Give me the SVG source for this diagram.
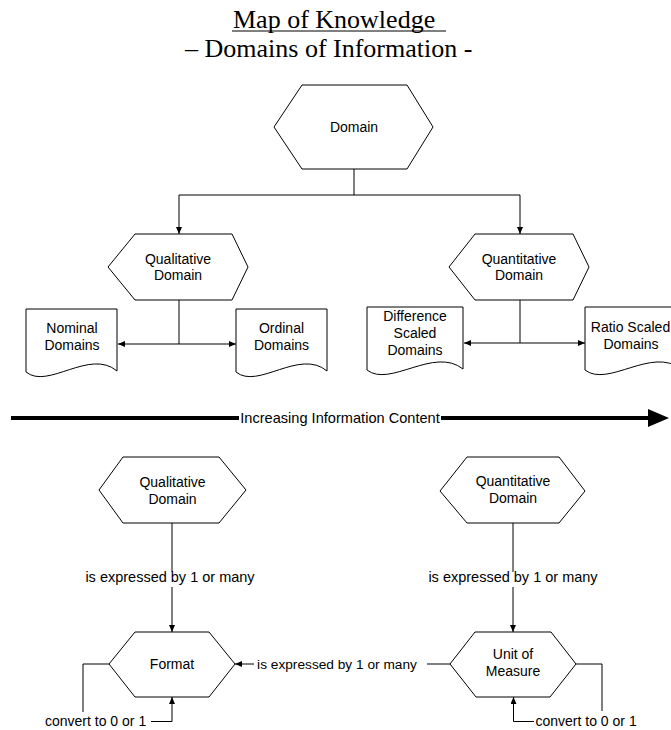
<svg xmlns="http://www.w3.org/2000/svg" width="671" height="730" viewBox="0 0 671 730">
  <style>
    .shape { fill: #fff; stroke: #000; stroke-width: 1; }
    .conn { fill: none; stroke: #000; stroke-width: 1; }
    .txt { font-family: "Liberation Sans", Arial, sans-serif; font-size: 14px; fill: #000; text-anchor: middle; }
    .lbl { font-family: "Liberation Sans", Arial, sans-serif; font-size: 14px; fill: #000; }
    .title { font-family: "Liberation Serif", "Times New Roman", serif; font-size: 26px; fill: #000; }
  </style>
  <defs>
    <marker id="arrow" markerUnits="userSpaceOnUse" markerWidth="8" markerHeight="7" refX="7" refY="3" orient="auto">
      <path d="M0,0 L7,3 L0,6 Z" fill="#000"/>
    </marker>
  </defs>

  <rect width="671" height="730" fill="#fff"/>

  <!-- heading -->
  <g id="title">
    <text class="title" x="233" y="28">Map of Knowledge</text>
    <line x1="232" y1="31" x2="446" y2="31" stroke="#000" stroke-width="1"/>
    <text class="title" x="185" y="57">– Domains of Information -</text>
  </g>

  <!-- upper hierarchy -->
  <g id="domain">
    <polygon class="shape" points="274,127 302,85 407,85 433,127 407,169 302,169"/>
    <text class="txt" x="354" y="131.5">Domain</text>
  </g>
  <g id="qualitative-domain">
    <polygon class="shape" points="108,267 135,234 232,234 248,267 232,300 135,300"/>
    <text class="txt" x="178" y="263.5">Qualitative</text>
    <text class="txt" x="178" y="280">Domain</text>
  </g>
  <g id="quantitative-domain">
    <polygon class="shape" points="449,267 475,234 573,234 589,267 573,300 475,300"/>
    <text class="txt" x="519" y="263.5">Quantitative</text>
    <text class="txt" x="519" y="280">Domain</text>
  </g>
  <g id="nominal-domains">
    <path class="shape" d="M26,309 H117 V371 C89.7,348 47.8,390 26,372 Z"/>
    <text class="txt" x="72" y="332.5">Nominal</text>
    <text class="txt" x="72" y="350">Domains</text>
  </g>
  <g id="ordinal-domains">
    <path class="shape" d="M236,309 H327 V371 C299.7,348 257.8,390 236,372 Z"/>
    <text class="txt" x="281.5" y="332.5">Ordinal</text>
    <text class="txt" x="281.5" y="350">Domains</text>
  </g>
  <g id="difference-scaled-domains">
    <path class="shape" d="M367,307 H463 V369 C434,346 390,388 367,370 Z"/>
    <text class="txt" x="415" y="321">Difference</text>
    <text class="txt" x="415" y="338">Scaled</text>
    <text class="txt" x="415" y="355">Domains</text>
  </g>
  <g id="ratio-scaled-domains">
    <path class="shape" d="M585,307 H681 V369 C652,346 608,388 585,370 Z"/>
    <text class="txt" x="630.5" y="332">Ratio Scaled</text>
    <text class="txt" x="631" y="349">Domains</text>
  </g>

  <!-- information content scale -->
  <g id="information-scale">
    <line x1="11" y1="418" x2="239" y2="418" stroke="#000" stroke-width="4"/>
    <text class="txt" x="340" y="422.5" style="font-size:14.6px">Increasing Information Content</text>
    <line x1="441" y1="418" x2="650" y2="418" stroke="#000" stroke-width="4"/>
    <polygon points="648,409 669,418 648,427" fill="#000"/>
  </g>

  <!-- lower relationships -->
  <g id="qualitative-domain-2">
    <polygon class="shape" points="99,490 123,457 219,457 246,490 219,523 123,523"/>
    <text class="txt" x="172.5" y="487">Qualitative</text>
    <text class="txt" x="172.5" y="504">Domain</text>
  </g>
  <g id="quantitative-domain-2">
    <polygon class="shape" points="440,491 467,457 559,457 585,491 559,523 467,523"/>
    <text class="txt" x="513" y="486">Quantitative</text>
    <text class="txt" x="513" y="503">Domain</text>
  </g>
  <g id="format">
    <polygon class="shape" points="109,664 135,632 209,632 235,664 209,697 135,697"/>
    <text class="txt" x="172" y="668.5">Format</text>
  </g>
  <g id="unit-of-measure">
    <polygon class="shape" points="450,664 475,632 551,632 576,664 550,697 476,697"/>
    <text class="txt" x="513" y="659">Unit of</text>
    <text class="txt" x="513" y="676">Measure</text>
  </g>

  <g id="connectors">
    <!-- Domain splits into its two kinds -->
    <path class="conn" d="M354,169 V195 H179 V234" marker-end="url(#arrow)"/>
    <path class="conn" d="M354,195 H520 V234" marker-end="url(#arrow)"/>
    <!-- Qualitative kinds -->
    <path class="conn" d="M179,300 V344 H118" marker-end="url(#arrow)"/>
    <path class="conn" d="M179,344 H236" marker-end="url(#arrow)"/>
    <!-- Quantitative kinds -->
    <path class="conn" d="M520,300 V343 H464" marker-end="url(#arrow)"/>
    <path class="conn" d="M520,343 H585" marker-end="url(#arrow)"/>

    <!-- Qualitative Domain -> Format -->
    <path class="conn" d="M172,523 V572"/>
    <path class="conn" d="M172,587 V632" marker-end="url(#arrow)"/>
    <text class="txt" x="170" y="581.5" style="font-size:14.5px">is expressed by 1 or many</text>

    <!-- Quantitative Domain -> Unit of Measure -->
    <path class="conn" d="M513,523 V572"/>
    <path class="conn" d="M513,587 V632" marker-end="url(#arrow)"/>
    <text class="txt" x="513" y="581.5" style="font-size:14.5px">is expressed by 1 or many</text>

    <!-- Unit of Measure -> Format -->
    <path class="conn" d="M450,664 H427"/>
    <path class="conn" d="M254,664 H235" marker-end="url(#arrow)"/>
    <text class="txt" x="337" y="668.5" style="font-size:13.7px">is expressed by 1 or many</text>

    <!-- Format self loop -->
    <path class="conn" d="M109,664 H83 V712"/>
    <path class="conn" d="M151,721.5 H172 V697" marker-end="url(#arrow)"/>
    <text class="lbl" x="45" y="725.5">convert to 0 or 1</text>

    <!-- Unit of Measure self loop -->
    <path class="conn" d="M576,664 H602 V711"/>
    <path class="conn" d="M534,721.5 H513.5 V697" marker-end="url(#arrow)"/>
    <text class="lbl" x="535.5" y="725.5">convert to 0 or 1</text>
  </g>
</svg>
